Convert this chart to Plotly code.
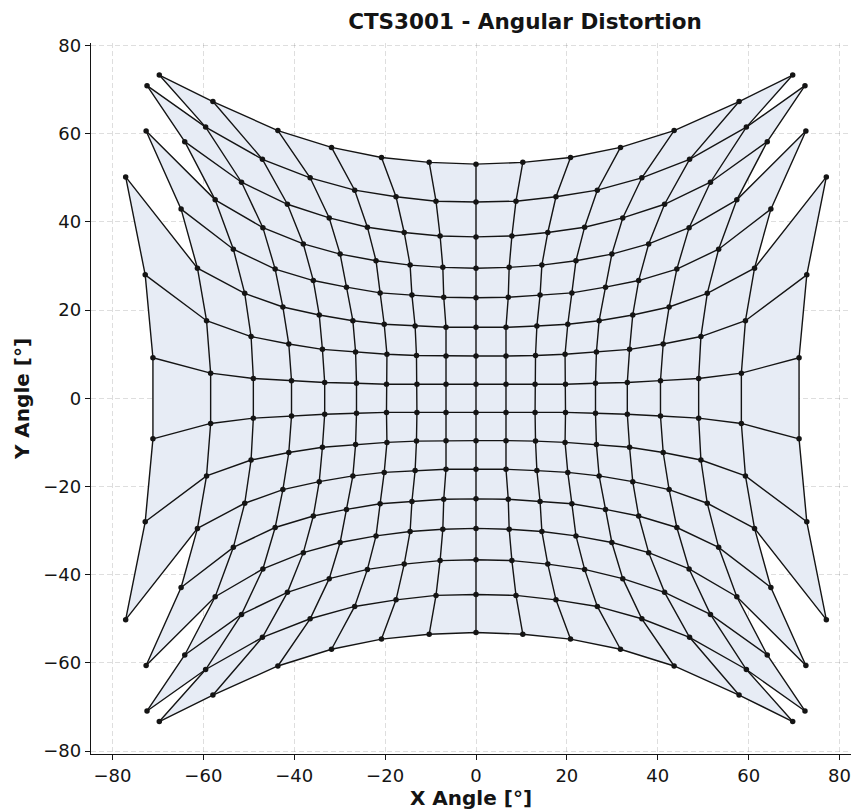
import plotly.graph_objects as go

# X angle [deg] of each grid point: one list per grid row (top to bottom), 19 columns.
# None marks grid positions that carry no point in the chart.
x_rows = [
    [None, None, None, -69.7, -57.9, -43.6, -31.8, -20.8, -10.3, 0.0, 10.3, 20.8, 31.8, 43.6, 57.9, 69.7, None, None, None],
    [None, None, -72.4, -59.5, -47.0, -36.5, -26.7, -17.6, -8.8, 0.0, 8.8, 17.6, 26.7, 36.5, 47.0, 59.5, 72.4, None, None],
    [None, None, -64.1, -51.6, -41.5, -32.3, -23.9, -15.8, -7.9, 0.0, 7.9, 15.8, 23.9, 32.3, 41.5, 51.6, 64.1, None, None],
    [None, -72.6, -57.4, -46.9, -38.0, -29.9, -22.0, -14.5, -7.3, 0.0, 7.3, 14.5, 22.0, 29.9, 38.0, 46.9, 57.4, 72.6, None],
    [None, -64.9, -53.4, -44.2, -35.8, -28.5, -21.1, -14.1, -7.1, 0.0, 7.1, 14.1, 21.1, 28.5, 35.8, 44.2, 53.4, 64.9, None],
    [-77.1, -61.3, -50.9, -42.5, -34.5, -27.1, -20.2, -13.4, -6.6, 0.0, 6.6, 13.4, 20.2, 27.1, 34.5, 42.5, 50.9, 61.3, 77.1],
    [-72.8, -59.3, -49.5, -41.2, -33.8, -26.5, -19.6, -13.1, -6.6, 0.0, 6.6, 13.1, 19.6, 26.5, 33.8, 41.2, 49.5, 59.3, 72.8],
    [-71.1, -58.4, -49.0, -40.6, -33.3, -26.3, -19.7, -13.0, -6.6, 0.0, 6.6, 13.0, 19.7, 26.3, 33.3, 40.6, 49.0, 58.4, 71.1],
    [-71.1, -58.4, -49.0, -40.6, -33.3, -26.3, -19.7, -13.0, -6.6, 0.0, 6.6, 13.0, 19.7, 26.3, 33.3, 40.6, 49.0, 58.4, 71.1],
    [-72.8, -59.3, -49.5, -41.2, -33.8, -26.5, -19.6, -13.1, -6.6, 0.0, 6.6, 13.1, 19.6, 26.5, 33.8, 41.2, 49.5, 59.3, 72.8],
    [-77.1, -61.3, -50.9, -42.5, -34.5, -27.1, -20.2, -13.4, -6.6, 0.0, 6.6, 13.4, 20.2, 27.1, 34.5, 42.5, 50.9, 61.3, 77.1],
    [None, -64.9, -53.4, -44.2, -35.8, -28.5, -21.1, -14.1, -7.1, 0.0, 7.1, 14.1, 21.1, 28.5, 35.8, 44.2, 53.4, 64.9, None],
    [None, -72.6, -57.4, -46.9, -38.0, -29.9, -22.0, -14.5, -7.3, 0.0, 7.3, 14.5, 22.0, 29.9, 38.0, 46.9, 57.4, 72.6, None],
    [None, None, -64.1, -51.6, -41.5, -32.3, -23.9, -15.8, -7.9, 0.0, 7.9, 15.8, 23.9, 32.3, 41.5, 51.6, 64.1, None, None],
    [None, None, -72.4, -59.5, -47.0, -36.5, -26.7, -17.6, -8.8, 0.0, 8.8, 17.6, 26.7, 36.5, 47.0, 59.5, 72.4, None, None],
    [None, None, None, -69.7, -57.9, -43.6, -31.8, -20.8, -10.3, 0.0, 10.3, 20.8, 31.8, 43.6, 57.9, 69.7, None, None, None],
]

# Y angle [deg] of each grid point, same layout as x_rows.
y_rows = [
    [None, None, None, 73.3, 67.3, 60.7, 56.9, 54.6, 53.5, 53.1, 53.5, 54.6, 56.9, 60.7, 67.3, 73.3, None, None, None],
    [None, None, 70.9, 61.5, 54.2, 50.0, 47.2, 45.7, 44.7, 44.5, 44.7, 45.7, 47.2, 50.0, 54.2, 61.5, 70.9, None, None],
    [None, None, 58.2, 49.0, 44.0, 40.9, 38.8, 37.6, 36.8, 36.6, 36.8, 37.6, 38.8, 40.9, 44.0, 49.0, 58.2, None, None],
    [None, 60.6, 45.0, 38.7, 35.0, 32.7, 31.2, 30.2, 29.7, 29.5, 29.7, 30.2, 31.2, 32.7, 35.0, 38.7, 45.0, 60.6, None],
    [None, 42.9, 33.8, 29.3, 26.7, 25.2, 23.9, 23.4, 22.9, 22.8, 22.9, 23.4, 23.9, 25.2, 26.7, 29.3, 33.8, 42.9, None],
    [50.2, 29.5, 23.8, 20.7, 18.9, 17.6, 16.8, 16.4, 16.1, 16.1, 16.1, 16.4, 16.8, 17.6, 18.9, 20.7, 23.8, 29.5, 50.2],
    [28.0, 17.6, 14.0, 12.3, 11.1, 10.5, 10.0, 9.7, 9.6, 9.6, 9.6, 9.7, 10.0, 10.5, 11.1, 12.3, 14.0, 17.6, 28.0],
    [9.2, 5.7, 4.5, 4.0, 3.6, 3.4, 3.2, 3.2, 3.2, 3.2, 3.2, 3.2, 3.2, 3.4, 3.6, 4.0, 4.5, 5.7, 9.2],
    [-9.2, -5.7, -4.5, -4.0, -3.6, -3.4, -3.2, -3.2, -3.2, -3.2, -3.2, -3.2, -3.2, -3.4, -3.6, -4.0, -4.5, -5.7, -9.2],
    [-28.0, -17.6, -14.0, -12.3, -11.1, -10.5, -10.0, -9.7, -9.6, -9.6, -9.6, -9.7, -10.0, -10.5, -11.1, -12.3, -14.0, -17.6, -28.0],
    [-50.2, -29.5, -23.8, -20.7, -18.9, -17.6, -16.8, -16.4, -16.1, -16.1, -16.1, -16.4, -16.8, -17.6, -18.9, -20.7, -23.8, -29.5, -50.2],
    [None, -42.9, -33.8, -29.3, -26.7, -25.2, -23.9, -23.4, -22.9, -22.8, -22.9, -23.4, -23.9, -25.2, -26.7, -29.3, -33.8, -42.9, None],
    [None, -60.6, -45.0, -38.7, -35.0, -32.7, -31.2, -30.2, -29.7, -29.5, -29.7, -30.2, -31.2, -32.7, -35.0, -38.7, -45.0, -60.6, None],
    [None, None, -58.2, -49.0, -44.0, -40.9, -38.8, -37.6, -36.8, -36.6, -36.8, -37.6, -38.8, -40.9, -44.0, -49.0, -58.2, None, None],
    [None, None, -70.9, -61.5, -54.2, -50.0, -47.2, -45.7, -44.7, -44.5, -44.7, -45.7, -47.2, -50.0, -54.2, -61.5, -70.9, None, None],
    [None, None, None, -73.3, -67.3, -60.7, -56.9, -54.6, -53.5, -53.1, -53.5, -54.6, -56.9, -60.7, -67.3, -73.3, None, None, None],
]

x_ticks = [-80, -60, -40, -20, 0, 20, 40, 60, 80]
y_ticks = [-80, -60, -40, -20, 0, 20, 40, 60, 80]

FONT = "DejaVu Sans"
FILL = "rgb(231,236,245)"
INK = "#141414"

n_rows = len(x_rows)
n_cols = len(x_rows[0])

fig = go.Figure()

# Filled cells: every quad whose four corners exist
for r in range(n_rows - 1):
    for c in range(n_cols - 1):
        corners = [(r, c), (r, c + 1), (r + 1, c + 1), (r + 1, c)]
        xs = [x_rows[i][j] for i, j in corners]
        ys = [y_rows[i][j] for i, j in corners]
        if any(v is None for v in xs + ys):
            continue
        fig.add_trace(go.Scatter(
            x=xs + [xs[0]], y=ys + [ys[0]], mode="none", fill="toself",
            fillcolor=FILL, hoverinfo="skip", showlegend=False))

# Grid lines: rows and columns
lx, ly = [], []
for r in range(n_rows):
    lx += list(x_rows[r]) + [None]
    ly += list(y_rows[r]) + [None]
for c in range(n_cols):
    lx += [x_rows[r][c] for r in range(n_rows)] + [None]
    ly += [y_rows[r][c] for r in range(n_rows)] + [None]
fig.add_trace(go.Scatter(x=lx, y=ly, mode="lines", connectgaps=False,
                         line=dict(color=INK, width=1.4), hoverinfo="skip", showlegend=False))

# Grid points
px, py = [], []
for r in range(n_rows):
    for c in range(n_cols):
        if x_rows[r][c] is not None:
            px.append(x_rows[r][c])
            py.append(y_rows[r][c])
fig.add_trace(go.Scatter(x=px, y=py, mode="markers",
                         marker=dict(color=INK, size=5.5), showlegend=False))

axis_common = dict(
    showgrid=True, gridcolor="rgba(0,0,0,0.13)", gridwidth=0.8, griddash="5px,3px",
    zeroline=False, showline=True, linecolor=INK, linewidth=1.3,
    ticks="outside", ticklen=5, tickwidth=1.3, tickcolor=INK,
    tickfont=dict(family=FONT, size=18, color=INK),
)

fig.update_layout(
    width=851, height=812,
    margin=dict(l=91, r=0, t=43, b=58),
    paper_bgcolor="white", plot_bgcolor="white",
    font=dict(family=FONT, color=INK),
    title=dict(text="CTS3001 - Angular Distortion", x=525 / 851, xref="container", xanchor="center",
               y=1 - 21 / 812, yref="container", yanchor="middle",
               font=dict(family=FONT, size=21.5, weight="bold", color=INK)),
    xaxis=dict(axis_common, range=[-84.73, 82.53], tickvals=x_ticks,
               title=dict(text="X Angle [°]", standoff=6,
                          font=dict(family=FONT, size=20, weight="bold", color=INK))),
    yaxis=dict(axis_common, range=[-80.66, 80.57], tickvals=y_ticks,
               title=dict(text="Y Angle [°]", standoff=8,
                          font=dict(family=FONT, size=20, weight="bold", color=INK))),
)

fig.write_html("out.html", config={"displayModeBar": False},
               post_script="document.body.style.margin='0';")
